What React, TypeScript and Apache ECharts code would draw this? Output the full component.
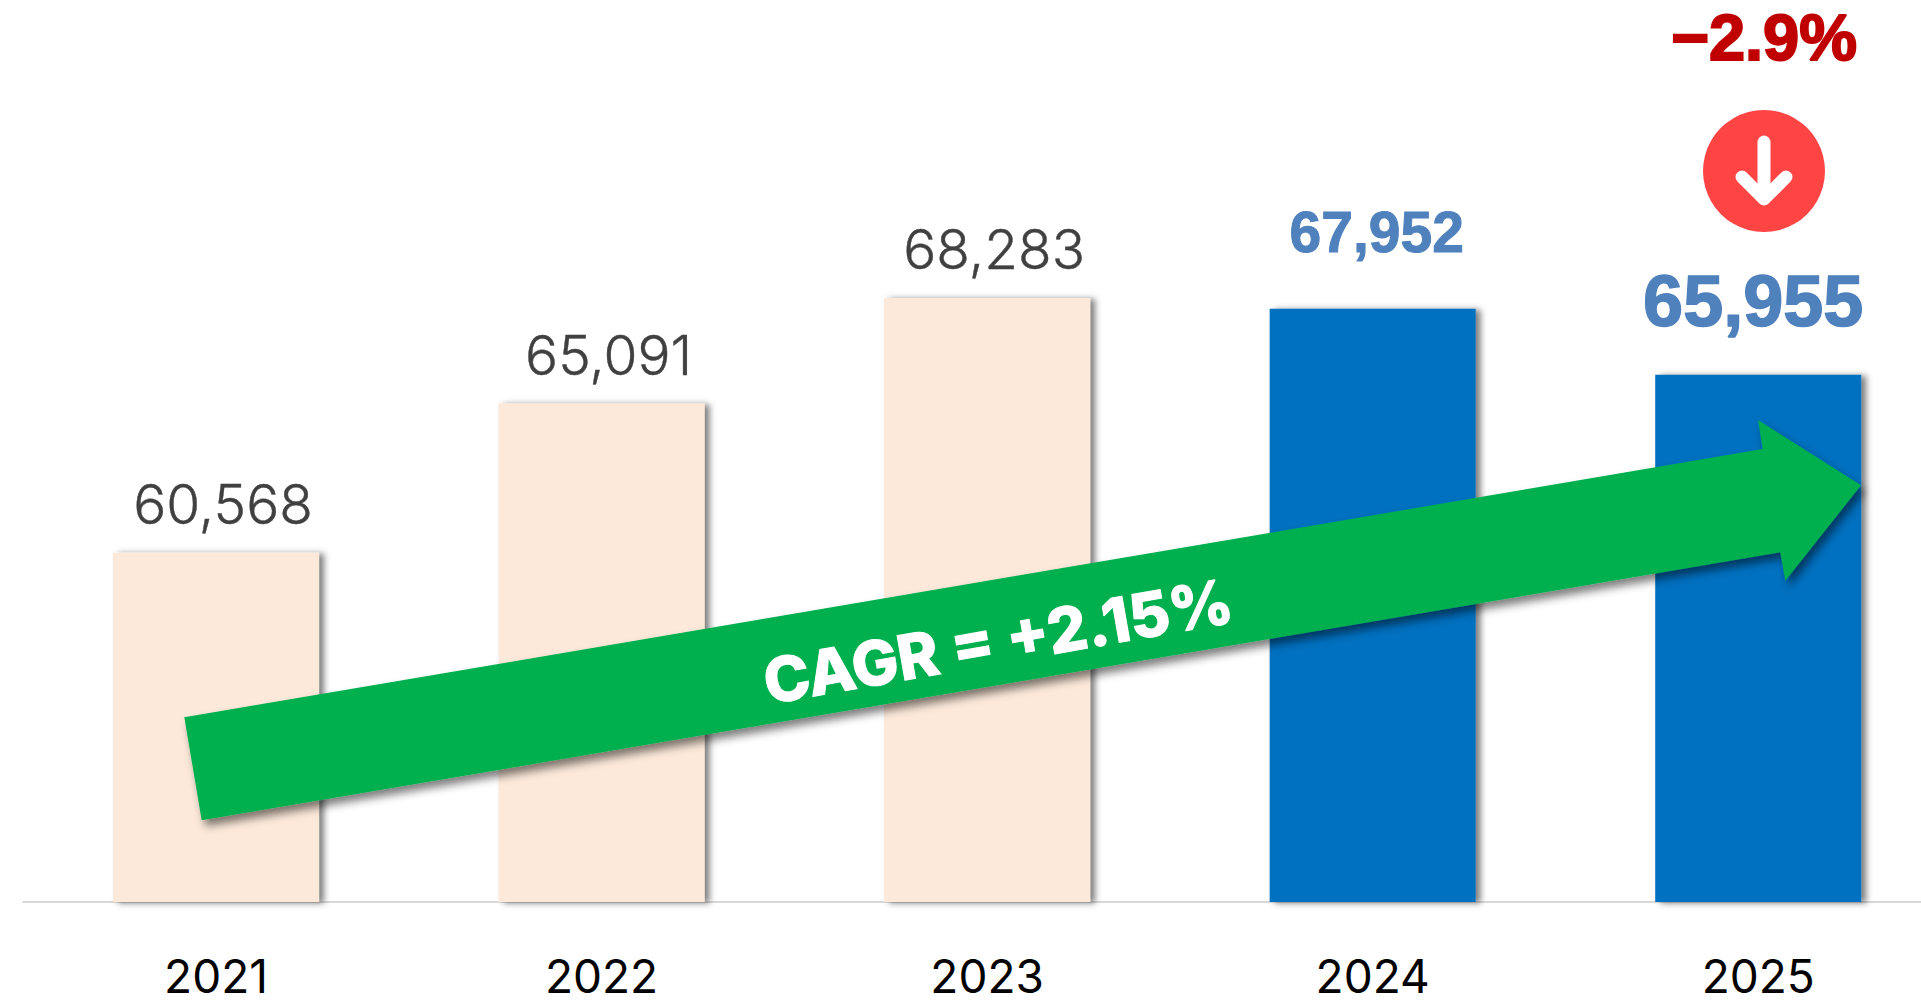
import React, { useEffect, useRef } from "react";
import * as echarts from "echarts";

const categories = ["2021", "2022", "2023", "2024", "2025"];
const values = [60568, 65091, 68283, 67952, 65955];
const barColors = ["#FCE9DA", "#FCE9DA", "#FCE9DA", "#0070C0", "#0070C0"];
const labelColors = ["#404040", "#404040", "#404040", "#4F81BD", "#4F81BD"];
const labelFonts = ["Inter", "Inter", "Inter", "Liberation Sans", "Liberation Sans"];
const labelWeights = [300, 300, 300, 700, 700];
const labelSizes = [55, 55, 55, 57, 72];
const labelBorders = [0.4, 0.4, 0.4, 1, 1.5];
const labelOffsets = [[7, -21], [7, -21], [7, -21], [4, -48], [-5, -38]];
const cagrText = "CAGR = +2.15%";
const changeText = "−2.9%";

export default function App() {
  const ref = useRef<HTMLDivElement>(null);
  useEffect(() => {
    document.body.style.margin = "0";
    document.body.style.overflow = "hidden";
    const chart = echarts.init(ref.current!, null, { renderer: "svg" });
    chart.setOption({
      animation: false,
      backgroundColor: "#fff",
      grid: { left: 23.25, right: 0, top: 76, bottom: 102, containLabel: false },
      xAxis: {
        type: "category",
        data: categories,
        axisTick: { show: false },
        axisLine: { lineStyle: { color: "#D9D9D9", width: 2 } },
        axisLabel: { color: "#000", fontFamily: "Inter", fontSize: 46, margin: 51, interval: 0 },
      },
      yAxis: { type: "value", min: 50000, max: 75000, show: false, splitLine: { show: false } },
      series: [
        {
          type: "bar",
          barWidth: 206,
          data: values.map((v, i) => ({
            value: v,
            itemStyle: {
              color: barColors[i],
              shadowColor: "rgba(0,0,0,0.5)",
              shadowBlur: 6,
              shadowOffsetX: 5,
              shadowOffsetY: 1,
            },
            label: {
              show: true,
              position: "top",
              distance: 0,
              formatter: () => v.toLocaleString("en-US"),
              color: labelColors[i],
              fontFamily: labelFonts[i],
              fontWeight: labelWeights[i],
              fontSize: labelSizes[i],
              textBorderColor: labelColors[i],
              textBorderWidth: labelBorders[i],
              offset: labelOffsets[i],
            },
          })),
        },
      ],
      graphic: [
        {
          type: "polygon",
          z: 100,
          shape: {
            points: [
              [184.3, 717.3],
              [1762.7, 449],
              [1758, 420],
              [1861, 485.3],
              [1785.3, 580.7],
              [1780.3, 552.3],
              [201.7, 820.3],
            ],
          },
          style: {
            fill: "#00B050",
            shadowColor: "rgba(0,0,0,0.5)",
            shadowBlur: 8,
            shadowOffsetX: 4,
            shadowOffsetY: 6,
          },
        },
        {
          type: "text",
          z: 101,
          x: 998,
          y: 641,
          rotation: 0.175,
          style: {
            text: cagrText,
            fill: "#fff",
            stroke: "#fff",
            lineWidth: 1,
            fontFamily: "Inter",
            fontWeight: 800,
            fontSize: 62,
            align: "center",
            verticalAlign: "middle",
          },
        },
        {
          type: "text",
          z: 101,
          x: 1764,
          y: 37,
          style: {
            text: changeText,
            fill: "#C00000",
            stroke: "#C00000",
            lineWidth: 2,
            fontFamily: "Liberation Sans",
            fontWeight: 700,
            fontSize: 65,
            align: "center",
            verticalAlign: "middle",
          },
        },
        { type: "circle", z: 101, shape: { cx: 1764, cy: 171, r: 61 }, style: { fill: "#FF4444" } },
        {
          type: "line",
          z: 102,
          shape: { x1: 1764, y1: 142, x2: 1764, y2: 196 },
          style: { stroke: "#fff", lineWidth: 13, lineCap: "round" },
        },
        {
          type: "polyline",
          z: 102,
          shape: { points: [[1742, 177], [1764, 199], [1786, 177]] },
          style: { stroke: "#fff", fill: "none", lineWidth: 13, lineCap: "round", lineJoin: "round" },
        },
      ],
    });
    return () => chart.dispose();
  }, []);
  return (
    <div style={{ position: "fixed", left: 0, top: 0, width: 1921, height: 1004, overflow: "hidden" }}>
      <div ref={ref} style={{ width: 1951, height: 1004 }} />
    </div>
  );
}
